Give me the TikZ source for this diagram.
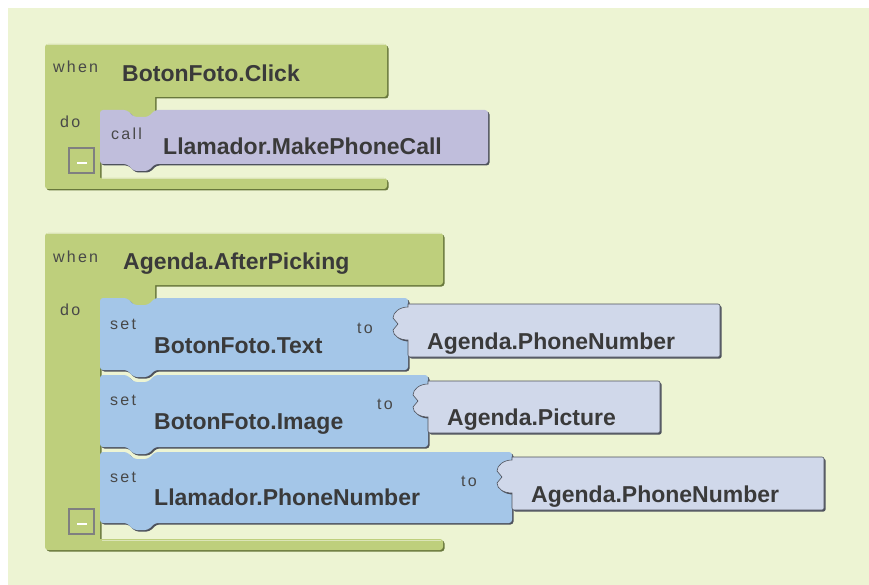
\documentclass[tikz,border=0pt]{standalone}
\usepackage{fontspec}
\setmainfont{Liberation Sans}
\definecolor{bgc}{RGB}{237,244,211}
\definecolor{greenc}{RGB}{190,207,124}
\definecolor{greensh}{RGB}{105,120,60}
\definecolor{purplec}{RGB}{192,190,220}
\definecolor{bluec}{RGB}{164,198,232}
\definecolor{valc}{RGB}{208,216,234}
\definecolor{shc}{RGB}{78,82,92}
\definecolor{txtc}{RGB}{58,58,58}
\definecolor{lblc}{RGB}{72,72,72}
\definecolor{boxc}{RGB}{128,128,128}
\newcommand\stmtpath[4]{[rounded corners=3pt] (#1,#2) -- ({#1+27},#2) -- ({#1+34},{#2+7}) -- ({#1+48},{#2+7}) -- ({#1+55},#2) -- (#3,#2) -- (#3,#4) -- ({#1+55},#4) -- ({#1+48},{#4+7}) -- ({#1+34},{#4+7}) -- ({#1+27},#4) -- (#1,#4) -- cycle}
\newcommand\valpath[4]{[rounded corners=2pt] (#1,#2) -- (#3,#2) -- (#3,#4) -- (#1,#4) [sharp corners] -- (#1,{#2+36}) .. controls ({#1-8},{#2+36}) and ({#1-15},{#2+32}) .. ({#1-15},{#2+26}) -- ({#1-10},{#2+20}) -- ({#1-15},{#2+14}) .. controls ({#1-15},{#2+8}) and ({#1-8},{#2+3}) .. (#1,{#2+3}) -- cycle}
\newcommand\evtpath[7]{% L T R headB bodyB(inner bottom) barB tabtop
 [rounded corners=3pt] (#1,#2) -- (#3,#2) -- (#3,#4) [sharp corners] -- (155,#4) -- (155,#7) -- (100,#7) -- (100,#5) [rounded corners=3pt] -- (#3,#5) -- (#3,#6) -- (#1,#6) -- cycle}
\tikzset{
  big/.style={font=\bfseries\fontsize{23}{23}\selectfont, text=txtc, anchor=base west, inner sep=0pt},
  small/.style={font=\fontsize{16}{16}\selectfont\addfontfeature{LetterSpace=14}, text=lblc, anchor=base west, inner sep=0pt},
  minusbox/.style={draw=boxc, line width=1.5pt, fill=greenc},
}
\begin{document}
\begin{tikzpicture}[x=1pt,y=-1pt]
\useasboundingbox (0,0) rectangle (869,585);
\fill[white] (0,0) rectangle (869,585);
\fill[bgc] (8,8) rectangle (869,585);

% ---------- event block 1 ----------
\fill[greensh, xshift=1.5pt, yshift=-1.5pt] \evtpath{45}{44}{387}{97}{178}{189}{118};
\fill[greenc] \evtpath{45}{44}{387}{97}{178}{189}{118};
\draw[white, opacity=0.45, line width=1pt] (47,45) -- (385,45);
\draw[white, opacity=0.45, line width=1pt] (102,179) -- (385,179);
\node[small] (when1) at (53,73) {when};
\node[big] (evt1) at (122,82) {BotonFoto.Click};
\node[small] (do1) at (60,128) {do};
\draw[minusbox] (69,148) rectangle (94,173);
\draw[white, line width=1.5pt] (77,163) -- (87,163);

\fill[shc, xshift=1.5pt, yshift=-1.5pt] \stmtpath{100}{110}{488}{164};
\fill[purplec] \stmtpath{100}{110}{488}{164};
\node[small] (call1) at (111,140) {call};
\node[big] (mpc) at (163,155) {Llamador.MakePhoneCall};

% ---------- event block 2 ----------
\fill[greensh, xshift=1.5pt, yshift=-1.5pt] \evtpath{45}{233}{443}{285}{539}{550}{306};
\fill[greenc] \evtpath{45}{233}{443}{285}{539}{550}{306};
\draw[white, opacity=0.45, line width=1pt] (47,234) -- (441,234);
\draw[white, opacity=0.45, line width=1pt] (102,540) -- (441,540);
\node[small] (when2) at (53,262) {when};
\node[big] (evt2) at (123,269) {Agenda.AfterPicking};
\node[small] (do2) at (60,315) {do};
\draw[minusbox] (69,509) rectangle (94,534);
\draw[white, line width=1.5pt] (77,524) -- (87,524);

% set blocks
\fill[shc, xshift=1.5pt, yshift=-1.5pt] \stmtpath{100}{298}{408}{370};
\fill[bluec] \stmtpath{100}{298}{408}{370};
\fill[shc, xshift=1.5pt, yshift=-1.5pt] \stmtpath{100}{375}{428}{447};
\fill[bluec] \stmtpath{100}{375}{428}{447};
\fill[shc, xshift=1.5pt, yshift=-1.5pt] \stmtpath{100}{452}{512}{523};
\fill[bluec] \stmtpath{100}{452}{512}{523};

\node[small] (set1) at (110,329) {set};
\node[big] (s1) at (154,353) {BotonFoto.Text};
\node[small] (to1) at (357,333) {to};
\node[small] (set2) at (110,405) {set};
\node[big] (s2) at (154,429) {BotonFoto.Image};
\node[small] (to2) at (377,409) {to};
\node[small] (set3) at (110,482) {set};
\node[big] (s3) at (154,505) {Llamador.PhoneNumber};
\node[small] (to3) at (461,486) {to};

% value blocks
\fill[shc, xshift=1.5pt, yshift=-1.5pt] \valpath{408}{304}{720}{357};
\fill[valc, draw=shc, line width=0.6pt] \valpath{408}{304}{720}{357};
\fill[shc, xshift=1.5pt, yshift=-1.5pt] \valpath{428}{381}{660}{433};
\fill[valc, draw=shc, line width=0.6pt] \valpath{428}{381}{660}{433};
\fill[shc, xshift=1.5pt, yshift=-1.5pt] \valpath{512}{457}{824}{510};
\fill[valc, draw=shc, line width=0.6pt] \valpath{512}{457}{824}{510};

\node[big] (v1) at (427,349) {Agenda.PhoneNumber};
\node[big] (v2) at (447,425) {Agenda.Picture};
\node[big] (v3) at (531,502) {Agenda.PhoneNumber};
\end{tikzpicture}
\end{document}
